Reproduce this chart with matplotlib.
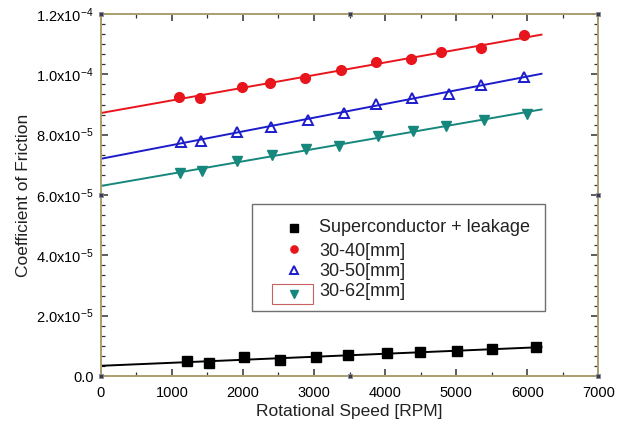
import numpy as np
import matplotlib
matplotlib.use('Agg')
from matplotlib import pyplot as plt
from matplotlib.ticker import MultipleLocator, AutoMinorLocator, FuncFormatter
from matplotlib.patches import Rectangle
from matplotlib.lines import Line2D

plt.rcParams['font.family'] = ['Liberation Sans', 'DejaVu Sans']
plt.rcParams['mathtext.fontset'] = 'custom'
plt.rcParams['mathtext.rm'] = 'Liberation Sans'
plt.rcParams['mathtext.it'] = 'Liberation Sans'

# values, friction coefficient in units of 1e-6
rpm_sc = [1215, 1524, 2011, 2517, 3022, 3479, 4029, 4497, 5007, 5504, 6122]
cof_sc = [4.9, 4.3, 6.2, 5.4, 6.2, 6.9, 7.6, 7.9, 8.2, 9.0, 9.5]

rpm_40 = [1102, 1393, 1987, 2386, 2872, 3383, 3865, 4367, 4788, 5350, 5958]
cof_40 = [92.6, 92.3, 95.8, 97.0, 98.7, 101.3, 104.0, 105.1, 107.4, 108.6, 113.0]

rpm_50 = [1126, 1411, 1917, 2400, 2910, 3420, 3865, 4381, 4895, 5354, 5948]
cof_50 = [77.7, 77.9, 81.0, 82.7, 84.7, 87.3, 90.2, 92.3, 93.5, 96.5, 99.2]

rpm_62 = [1112, 1421, 1917, 2414, 2892, 3350, 3897, 4389, 4858, 5396, 5996]
cof_62 = [67.2, 68.1, 71.2, 73.2, 75.3, 76.4, 79.4, 81.3, 82.9, 84.9, 87.0]

labels = ['Superconductor + leakage', '30-40[mm]', '30-50[mm]', '30-62[mm]']
fit_end = 6200


def sci(v, pos):
    if v == 0:
        return '0.0'
    e = int(np.floor(np.log10(abs(v))))
    m = v / 10**e
    return r'%.1fx10$^{%d}$' % (m, e)


def main():
    W, H = 623, 432
    fig = plt.figure(figsize=(6.23, 4.32), dpi=100)
    ax = fig.add_axes([0.1618, 0.1296, 0.7986, 0.838])

    series = [
        (rpm_sc, cof_sc, 'k', dict(marker='s', ms=7, mfc='k', mec='k')),
        (rpm_40, cof_40, '#e8161c', dict(marker='o', ms=7, mfc='#e8161c', mec='#e8161c')),
        (rpm_50, cof_50, '#1c1ccc', dict(marker='^', ms=7.5, mfc='none', mec='#1c1ccc', mew=1.4)),
        (rpm_62, cof_62, '#16877c', dict(marker='v', ms=7.5, mfc='#16877c', mec='#16877c')),
    ]
    for x, y, c, mk in series:
        x = np.asarray(x, float)
        y = np.asarray(y, float) * 1e-6
        p = np.polyfit(x, y, 1)
        xx = np.array([0, fit_end])
        ax.plot(xx, np.polyval(p, xx), color=c, lw=1.4, zorder=2)
        ax.plot(x, y, ls='none', zorder=3, **mk)

    ax.set_xlim(0, 7000)
    ax.set_ylim(0, 1.2e-4)
    ax.xaxis.set_major_locator(MultipleLocator(1000))
    ax.xaxis.set_minor_locator(AutoMinorLocator(2))
    ax.yaxis.set_major_locator(MultipleLocator(2e-5))
    ax.yaxis.set_minor_locator(AutoMinorLocator(6))
    ax.yaxis.set_major_formatter(FuncFormatter(sci))
    ax.tick_params(which='both', direction='in', top=True, right=True,
                   labelsize=10.5, color='#303030')
    ax.tick_params(which='major', length=5, width=1.1)
    ax.tick_params(which='minor', length=3, width=0.9)
    ax.tick_params(axis='x', pad=7)
    ax.tick_params(axis='y', pad=5)
    for s in ax.spines.values():
        s.set_color('#ab9e6e')
        s.set_linewidth(1.4)

    ax.set_xlabel('Rotational Speed [RPM]', fontsize=12.5, labelpad=3, color='#222222')
    ax.set_ylabel('Coefficient of Friction', fontsize=12.5, labelpad=4, color='#222222')

    # origin-style anchor squares on the frame
    ax_x = [0, 3500, 7000, 3500, 0, 0, 7000, 7000]
    ax_y = [0, 0, 0, 1.2e-4, 6e-5, 1.2e-4, 6e-5, 1.2e-4]
    ax.plot(ax_x, ax_y, 's', ms=3.5, mfc='#3a3a55', mec='#8a8a8a', mew=0.6,
            ls='none', clip_on=False, zorder=6)

    # legend drawn by hand
    fig.patches.append(Rectangle((252.3 / W, 1 - 310.7 / H), 292.7 / W, 106.7 / H,
                                 transform=fig.transFigure, fill=True, fc='white',
                                 ec='#707070', lw=1.0, zorder=8))
    mark_rows = [227.5, 248.5, 270, 294]
    text_rows = [226, 249, 270, 290]
    for (x, y, c, mk), lab, my, ty in zip(series, labels, mark_rows, text_rows):
        lmk = dict(mk)
        lmk['ms'] = 5.2
        fig.add_artist(Line2D([294 / W], [1 - my / H], ls='none',
                              transform=fig.transFigure, zorder=9, **lmk))
        fig.text(319 / W, 1 - ty / H, lab, fontsize=13, va='center_baseline',
                 ha='left', color='#222222', zorder=9)

    fig.patches.append(Rectangle((272.3 / W, 1 - 304 / H), 41 / W, 20 / H,
                                 transform=fig.transFigure, fill=False,
                                 ec='#c86060', lw=0.8, zorder=10))

    fig.savefig('out.png', dpi=100)


if __name__ == '__main__':
    main()
